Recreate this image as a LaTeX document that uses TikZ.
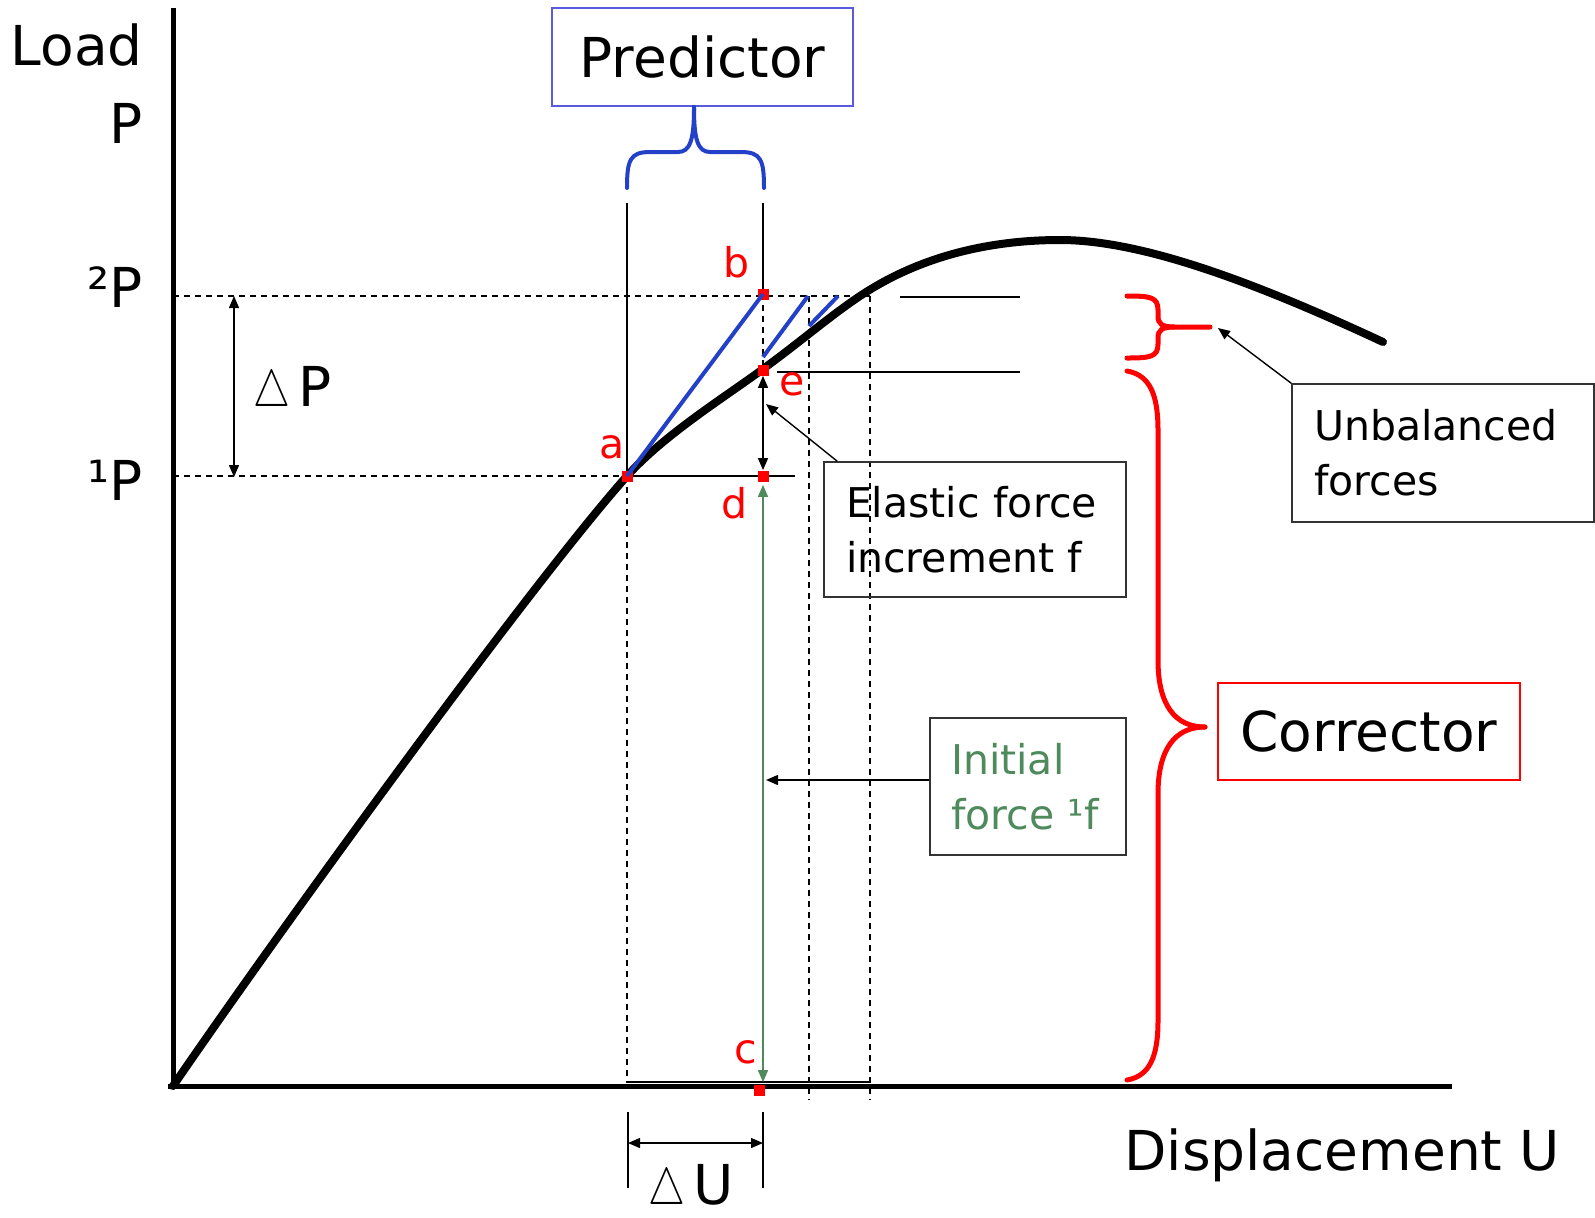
\documentclass[tikz,border=0pt]{standalone}
\usepackage{fontspec}
\setmainfont{DejaVu Sans}
\usetikzlibrary{arrows.meta}
\definecolor{cazul}{HTML}{2340C8}
\definecolor{cazulc}{HTML}{5A5ADC}
\definecolor{crojo}{HTML}{FF0000}
\definecolor{cverde}{HTML}{4E8A5C}
\newcommand\fgrande{\fontsize{27.5}{33}\selectfont}
\newcommand\fmedia{\fontsize{20.5}{27.5}\selectfont}
\newcommand\incr{\scalebox{1}[1.25]{\fontsize{21}{24}\selectfont$\triangle$}\kern4pt}
\tikzset{
  eje/.style={line width=2.5pt},
  curva/.style={line width=4pt, line cap=round, line join=round},
  fina/.style={line width=0.7pt},
  discont/.style={line width=0.7pt, dash pattern=on 3pt off 2.5pt},
  azul/.style={line width=2pt, draw=cazul},
  llave/.style={line width=2.5pt, draw=crojo, line cap=round},
  llavea/.style={line width=2pt, draw=cazul, line cap=round},
  punto/.style={rectangle, fill=crojo, minimum size=5.5pt, inner sep=0pt},
  etqr/.style={text=crojo, font=\fmedia, inner sep=0pt, anchor=base},
  etq/.style={font=\fgrande, inner sep=0pt},
  caja/.style={rectangle, draw=black!80, line width=0.8pt, font=\fmedia,
    align=left, inner xsep=11pt, minimum height=67.5pt},
  cajaazul/.style={rectangle, draw=cazulc, line width=0.8pt, font=\fgrande,
    minimum width=150.5pt, minimum height=49pt},
  cajaroja/.style={rectangle, draw=crojo, line width=0.8pt, font=\fgrande,
    minimum width=151pt, minimum height=48.5pt},
  flecha/.style={-{Triangle[length=6pt,width=5pt]}, line width=0.7pt},
  flechas/.style={{Triangle[length=6pt,width=5pt]}-{Triangle[length=6pt,width=5pt]}, line width=0.7pt},
}
\begin{document}
\begin{tikzpicture}[x=0.5pt, y=-0.5pt]
  \useasboundingbox (0,0) rectangle (1595,1217);
  % guide lines
  \draw[discont] (173,296) -- (870,296);
  \draw[discont] (173,476) -- (627,476);
  \draw[discont] (627,476) -- (627,1083);
  \draw[discont] (763,294) -- (763,370);
  \draw[discont] (809,296) -- (809,1100);
  \draw[discont] (870,296) -- (870,1100);
  \draw[fina] (627,203) -- (627,476);
  \draw[fina] (763,203) -- (763,294);
  \draw[fina] (627,476) -- (795,476);
  \draw[fina] (900,297) -- (1020,297);
  \draw[fina] (777,372) -- (1020,372);
  \draw[fina] (627,1082) -- (870,1082);
  \draw[fina] (628,1112) -- (628,1188);
  \draw[fina] (763,1112) -- (763,1188);
  % axes
  \draw[eje] (173,8) -- (173,1088);
  \draw[eje] (168,1086) -- (1452,1086);
  % load curve
  \draw[curva] (173,1086) .. controls (280,930) and (530,585) .. (627,476)
    .. controls (665,434) and (725,397) .. (763,369)
    .. controls (800,342) and (830,316) .. (860,296)
    .. controls (920,256) and (990,240) .. (1060,240)
    .. controls (1140,240) and (1250,280) .. (1383,342);
  % points
  \node[punto] (a) at (627,476) {};
  \node[punto] (b) at (763,294) {};
  \node[punto] (e) at (763,370) {};
  \node[punto] (d) at (763,476) {};
  \node[punto] (c) at (759,1090) {};
  \node[etqr] at (612,458) {a};
  \node[etqr] at (737,277) {b};
  \node[etqr] at (792,395) {e};
  \node[etqr] at (735,518) {d};
  \node[etqr] at (746,1063) {c};
  % predictor lines
  \coordinate (q1) at (763,357);
  \coordinate (q2) at (808,296);
  \coordinate (r1) at (809,326);
  \coordinate (r2) at (838,296);
  \draw[azul] (a.center) -- (b.center);
  \draw[azul] (q1) -- (q2);
  \draw[azul] (r1) -- (r2);
  % increments
  \draw[flechas] (e.south) -- (d.north);
  \draw[flechas, draw=cverde, fill=cverde] ([yshift=-1.5pt]d.south) -- ([yshift=1pt]d.south |- c.north);
  \coordinate (dp1) at (234,296);
  \coordinate (dp2) at (234,477);
  \draw[flechas] (dp1) -- (dp2);
  \coordinate (du1) at (628,1143);
  \coordinate (du2) at (763,1143);
  \draw[flechas] (du1) -- (du2);
  % axis labels
  \node[etq, anchor=base east] at (143,65) {Load};
  \node[etq, anchor=base east] at (143,143) {P};
  \node[etq, anchor=base east] at (143,307) {²P};
  \node[etq, anchor=base east] at (143,500) {¹P};
  \node[etq, anchor=base west] at (253,406) {\incr P};
  \node[etq, anchor=base west] at (648,1204) {\incr U};
  \node[etq, anchor=base west] at (1124,1170) {Displacement U};
  % predictor brace
  \node[cajaazul] (pred) at (702.5,57) {Predictor};
  \draw[llavea] (627,188) .. controls (627,160) and (630,152) .. (650,152) -- (678,152)
    .. controls (690,152) and (694,140) .. (694,108);
  \draw[llavea] (764,188) .. controls (764,160) and (761,152) .. (741,152) -- (710,152)
    .. controls (698,152) and (694,140) .. (694,108);
  \draw[llavea] (694,108) -- (pred.south -| 694,0);
  % corrector braces
  \draw[llave] (1127,296) .. controls (1150,296) and (1158,297) .. (1158,310) -- (1158,316)
    .. controls (1158,324) and (1162,327) .. (1174,327) -- (1210,327);
  \draw[llave] (1127,358) .. controls (1150,358) and (1158,357) .. (1158,344) -- (1158,338)
    .. controls (1158,330) and (1162,327) .. (1174,327);
  \draw[llave] (1127,371) .. controls (1150,375) and (1158,395) .. (1158,430) -- (1158,660)
    .. controls (1158,705) and (1175,727) .. (1205,727);
  \draw[llave] (1127,1080) .. controls (1150,1076) and (1158,1056) .. (1158,1021) -- (1158,794)
    .. controls (1158,749) and (1175,727) .. (1205,727);
  \node[cajaroja] (corr) at (1369,731.5) {Corrector};
  % callouts
  \node[caja, text width=129pt] (elast) at (975,529.5) {Elastic force\\increment f};
  \node[caja, text width=129pt, minimum height=69pt] (desbal) at (1443,453) {Unbalanced\\forces};
  \node[caja, text width=77pt, inner xsep=10.5pt, minimum height=68.5pt, text=cverde] (inic) at (1028,786.5) {Initial\\force ¹f};
  \coordinate (pe) at (766,404);
  \coordinate (pu) at (1218,328);
  \coordinate (pi) at (766,780);
  \draw[flecha] ([xshift=7pt]elast.north west) -- (pe);
  \draw[flecha] (desbal.north west) -- (pu);
  \draw[flecha] ([yshift=3.25pt]inic.west) -- (pi);
\end{tikzpicture}
\end{document}
